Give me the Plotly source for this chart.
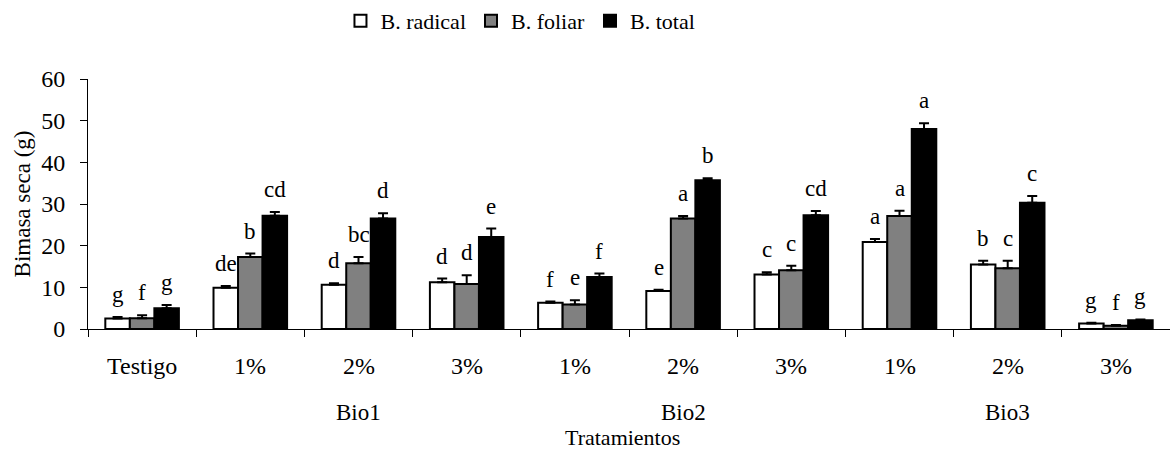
import plotly.graph_objects as go

# Treatments (control + three biofertilizers at three doses)
doses = ["Testigo", "1%", "2%", "3%", "1%", "2%", "3%", "1%", "2%", "3%"]
groups = ["Bio1", "Bio2", "Bio3"]
group_center = [2, 5, 8]  # category index under which each product name sits

# Dry biomass (g) and standard error
radical = [2.5, 9.9, 10.6, 11.2, 6.3, 9.1, 13.1, 20.9, 15.5, 1.3]
radical_err = [0.4, 0.4, 0.4, 0.9, 0.3, 0.3, 0.5, 0.7, 0.9, 0.2]
foliar = [2.6, 17.3, 15.8, 10.8, 5.9, 26.5, 14.1, 27.1, 14.6, 0.8]
foliar_err = [0.7, 0.8, 1.5, 2.1, 1.0, 0.6, 1.1, 1.3, 1.8, 0.15]
total = [5.0, 27.2, 26.5, 22.1, 12.5, 35.7, 27.3, 48.0, 30.3, 2.1]
total_err = [0.75, 0.9, 1.3, 2.0, 0.8, 0.5, 1.0, 1.4, 1.6, 0.2]

# Significance letters
radical_lbl = ["g", "de", "d", "d", "f", "e", "c", "a", "b", "g"]
foliar_lbl = ["f", "b", "bc", "d", "e", "a", "c", "a", "c", "f"]
total_lbl = ["g", "cd", "d", "e", "f", "b", "cd", "a", "c", "g"]

FONT = "Liberation Serif"
BARGAP = 0.32


def txt(size):
    return dict(family=FONT, size=size, color="black")


x = list(range(len(doses)))
series = [
    ("B. radical", radical, radical_err, radical_lbl, "#ffffff"),
    ("B. foliar", foliar, foliar_err, foliar_lbl, "#808080"),
    ("B. total", total, total_err, total_lbl, "#000000"),
]

fig = go.Figure()
bar_w = (1 - BARGAP) / len(series)
annotations = []
for i, (name, vals, errs, lbls, color) in enumerate(series):
    fig.add_trace(go.Bar(
        name=name, x=x, y=vals,
        marker=dict(color=color, line=dict(color="black", width=2)),
        error_y=dict(type="data", array=errs, arrayminus=[0] * len(errs),
                     symmetric=False, color="black", thickness=2, width=5),
    ))
    off = (i - (len(series) - 1) / 2) * bar_w
    for xi, v, e, t in zip(x, vals, errs, lbls):
        annotations.append(dict(
            x=xi + off, y=v + e, xref="x", yref="y", text=t, showarrow=False,
            yanchor="bottom", yshift=8, font=txt(23),
        ))

# Category labels, product names and axis title below the x axis
for xi, d in zip(x, doses):
    annotations.append(dict(x=xi, y=0, xref="x", yref="paper", text=d, showarrow=False,
                            yanchor="middle", yshift=-37, font=txt(24)))
for gc, g in zip(group_center, groups):
    annotations.append(dict(x=gc, y=0, xref="x", yref="paper", text=g, showarrow=False,
                            yanchor="middle", yshift=-83, font=txt(23)))
annotations.append(dict(x=0.494, y=0, xref="paper", yref="paper", text="Tratamientos",
                        showarrow=False, yanchor="middle", yshift=-108, font=txt(22)))

fig.update_layout(
    width=1170, height=452,
    margin=dict(l=88, r=0, t=79, b=123),
    paper_bgcolor="white", plot_bgcolor="white",
    barmode="group", bargap=BARGAP, bargroupgap=0,
    font=txt(22),
    showlegend=True,
    legend=dict(orientation="h", xref="container", yref="container",
                x=0.291, y=1.0, xanchor="left", yanchor="top",
                font=txt(22), itemwidth=30, tracegroupgap=0),
    annotations=annotations,
    xaxis=dict(range=[-0.5, len(doses) - 0.5], tickmode="array",
               tickvals=[k - 0.5 for k in range(len(doses))], showticklabels=False,
               ticks="outside", ticklen=7, tickcolor="black", tickwidth=1,
               showline=True, linecolor="black", linewidth=1, showgrid=False,
               zeroline=False, fixedrange=True),
    yaxis=dict(range=[0, 60], dtick=10, ticks="outside", ticklen=7, tickcolor="black",
               showline=True, linecolor="black", linewidth=1, showgrid=False,
               zeroline=False, ticklabelstandoff=10,
               title=dict(text="Bimasa seca (g)", standoff=4, font=txt(23)),
               tickfont=txt(24)),
)

fig.write_html("out.html")
